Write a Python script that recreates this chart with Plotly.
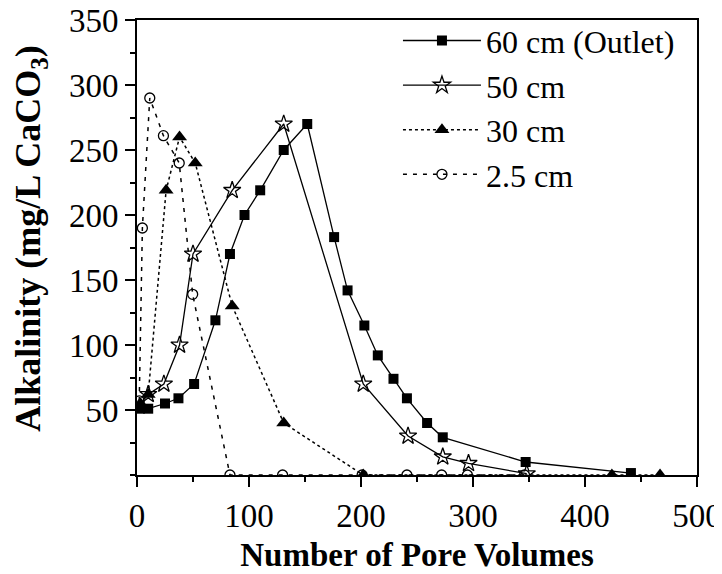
import plotly.graph_objects as go

# 60 cm (Outlet)
x60 = [2.5, 10, 25, 37, 51, 70, 83, 96, 110, 131, 152, 176, 188, 203, 215, 229, 241, 259, 273, 347, 441]
y60 = [51, 51, 55, 59, 70, 119, 170, 200, 219, 250, 270, 183, 142, 115, 92, 74, 59, 40, 29, 10, 1.5]

# 50 cm
x50 = [10, 24, 38, 50, 85, 131, 202, 242, 273, 296, 348]
y50 = [62, 70, 100, 170, 219, 270, 70, 30, 14, 9, 1]

# 30 cm
x30 = [3, 10, 26, 38, 52, 85, 131, 202, 424, 467]
y30 = [55, 62, 219, 260, 240, 130, 40, 0, 0, 0]

# 2.5 cm
x25 = [2, 4.8, 11.4, 23.6, 37.7, 49.7, 83, 130, 201, 241, 272, 295, 346]
y25 = [57, 190, 290, 261, 240, 139, 0, 0, 0, 0, 0, 0, 0]

names = ["60 cm (Outlet)", "50 cm", "30 cm", "2.5 cm"]

FONT = "Liberation Serif"

fig = go.Figure()
fig.add_trace(go.Scatter(x=x60, y=y60, name=names[0], mode="lines+markers",
                         line=dict(color="black", width=1.3),
                         marker=dict(symbol="square", size=10, color="black")))
fig.add_trace(go.Scatter(x=x50, y=y50, name=names[1], mode="lines+markers",
                         line=dict(color="black", width=1.3),
                         marker=dict(symbol="star-open", size=13, color="black", line=dict(width=1.3))))
fig.add_trace(go.Scatter(x=x30, y=y30, name=names[2], mode="lines+markers",
                         line=dict(color="black", width=1.5, dash="dot"),
                         marker=dict(symbol="triangle-up", size=13, color="black")))
fig.add_trace(go.Scatter(x=x25, y=y25, name=names[3], mode="lines+markers",
                         line=dict(color="black", width=1.5, dash="4px,6px"),
                         marker=dict(symbol="circle-open", size=10, color="black", line=dict(width=1.3))))

fig.update_layout(
    width=714, height=566,
    margin=dict(l=129, r=25, t=12, b=99, autoexpand=False),
    paper_bgcolor="white", plot_bgcolor="white",
    font=dict(family=FONT, color="black", size=33),
    showlegend=True,
    legend=dict(x=0.466, y=1.015, xanchor="left", yanchor="top",
                bgcolor="rgba(0,0,0,0)", borderwidth=0,
                font=dict(family=FONT, size=32, color="black"),
                itemwidth=78, tracegroupgap=0),
)
fig.update_xaxes(
    range=[0, 500], dtick=100, tick0=0, automargin=False,
    showgrid=False, zeroline=False,
    showline=True, linecolor="black", linewidth=2, mirror=True,
    ticks="outside", ticklen=10, tickwidth=2, tickcolor="black",
    ticklabeloverflow="allow",
    minor=dict(dtick=50, ticks="outside", ticklen=5, tickwidth=2, tickcolor="black"),
    tickfont=dict(family=FONT, size=33),
    title=dict(text="<b>Number of Pore Volumes</b>", font=dict(family=FONT, size=33), standoff=10),
)
fig.update_yaxes(
    range=[0, 350], tickvals=[50, 100, 150, 200, 250, 300, 350], automargin=False,
    showgrid=False, zeroline=False,
    showline=True, linecolor="black", linewidth=2, mirror=True,
    ticks="outside", ticklen=10, tickwidth=2, tickcolor="black",
    ticklabeloverflow="allow",
    minor=dict(dtick=25, tick0=0, ticks="outside", ticklen=5, tickwidth=2, tickcolor="black"),
    tickfont=dict(family=FONT, size=33),
    title=dict(text="&nbsp;&nbsp;<b>Alkalinity (mg/L CaCO<sub>3</sub>)</b>",
               font=dict(family=FONT, size=36), standoff=18),
)

fig.write_html("out.html")
